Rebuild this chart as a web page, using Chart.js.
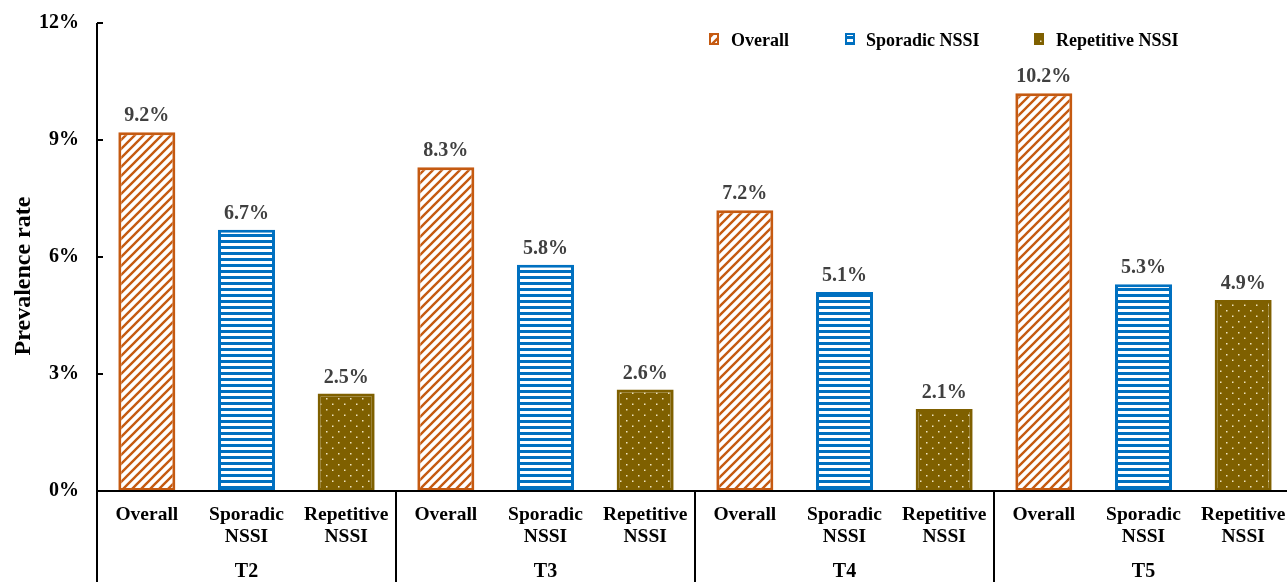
<!DOCTYPE html>
<html>
<head>
<meta charset="utf-8">
<script src="https://cdn.jsdelivr.net/npm/chart.js@4"></script>
<style>
html,body{margin:0;padding:0;background:#fff;overflow:hidden;}
#wrap{width:1287px;height:582px;position:relative;overflow:hidden;}
canvas{display:block;}
</style>
</head>
<body>
<div id="wrap"><canvas id="c" width="1293" height="582"></canvas></div>
<script>
const categories = [
  ["Overall"], ["Sporadic","NSSI"], ["Repetitive","NSSI"],
  ["Overall"], ["Sporadic","NSSI"], ["Repetitive","NSSI"],
  ["Overall"], ["Sporadic","NSSI"], ["Repetitive","NSSI"],
  ["Overall"], ["Sporadic","NSSI"], ["Repetitive","NSSI"]
];
const groups = ["T2","T3","T4","T5"];
const seriesNames = ["Overall","Sporadic NSSI","Repetitive NSSI"];
const overall    = [9.2, null, null, 8.3, null, null, 7.2, null, null, 10.2, null, null];
const sporadic   = [null, 6.7, null, null, 5.8, null, null, 5.1, null, null, 5.3, null];
const repetitive = [null, null, 2.5, null, null, 2.6, null, null, 2.1, null, null, 4.9];
const yTicks = [0, 3, 6, 9, 12];
const yTitle = "Prevalence rate";

const ORANGE = '#C55A11', BLUE = '#0070C0', BROWN = '#7F6000';
const FONT = '"Liberation Serif", "Times New Roman", serif';

function makePattern(kind) {
  const c = document.createElement('canvas');
  const ctx = c.getContext('2d');
  if (kind === 'diag') {
    c.width = 9; c.height = 9;
    ctx.fillStyle = '#fff'; ctx.fillRect(0,0,9,9);
    ctx.strokeStyle = ORANGE; ctx.lineWidth = 2.4;
    ctx.beginPath();
    ctx.moveTo(-2, 11); ctx.lineTo(11, -2);
    ctx.moveTo(-7, 7); ctx.lineTo(7, -7);
    ctx.moveTo(2, 16); ctx.lineTo(16, 2);
    ctx.stroke();
  } else if (kind === 'horiz') {
    c.width = 10; c.height = 6;
    ctx.fillStyle = '#fff'; ctx.fillRect(0,0,10,6);
    ctx.fillStyle = BLUE; ctx.fillRect(0, 0, 10, 3);
  } else {
    c.width = 12; c.height = 11;
    ctx.fillStyle = BROWN; ctx.fillRect(0,0,12,11);
    ctx.fillStyle = '#efe4c0';
    ctx.fillRect(2, 2, 1.5, 1.5);
    ctx.fillRect(8, 7.5, 1.5, 1.5);
  }
  return document.getElementById('c').getContext('2d').createPattern(c, 'repeat');
}
const fills = [makePattern('diag'), makePattern('horiz'), makePattern('dots')];
const borders = [ORANGE, BLUE, BROWN];

const customPlugin = {
  id: 'custom',
  afterDatasetsDraw(chart) {
    const ctx = chart.ctx;
    ctx.save();
    ctx.font = 'bold 20px ' + FONT;
    ctx.fillStyle = '#404040';
    ctx.textAlign = 'center';
    ctx.textBaseline = 'alphabetic';
    chart.data.datasets.forEach((ds, di) => {
      const meta = chart.getDatasetMeta(di);
      meta.data.forEach((bar, i) => {
        const v = ds.data[i];
        if (v === null || v === undefined) return;
        ctx.fillText(v.toFixed(1) + '%', bar.x, bar.y - 11);
      });
    });
    ctx.restore();
  },
  afterDraw(chart) {
    const ctx = chart.ctx;
    const x = chart.scales.x, y = chart.scales.y;
    const area = chart.chartArea;
    const H = chart.height;
    const half = (x.getPixelForValue(1) - x.getPixelForValue(0)) / 2;
    ctx.save();
    ctx.strokeStyle = '#000';
    ctx.lineWidth = 2;
    ctx.beginPath();
    ctx.moveTo(area.left, area.top);
    ctx.lineTo(area.left, H);
    ctx.stroke();
    ctx.beginPath();
    ctx.moveTo(area.left, area.bottom);
    ctx.lineTo(area.right, area.bottom);
    ctx.stroke();
    yTicks.forEach(t => {
      const py = y.getPixelForValue(t);
      ctx.beginPath();
      ctx.moveTo(area.left, py);
      ctx.lineTo(area.left + 6, py);
      ctx.stroke();
    });
    ctx.save();
    ctx.translate(24, 276);
    ctx.rotate(-Math.PI / 2);
    ctx.font = 'bold 24px ' + FONT;
    ctx.fillStyle = '#000';
    ctx.textAlign = 'center';
    ctx.textBaseline = 'middle';
    ctx.fillText(yTitle, 0, 0);
    ctx.restore();
    ctx.font = 'bold 20px ' + FONT;
    ctx.fillStyle = '#000';
    ctx.textAlign = 'center';
    ctx.textBaseline = 'middle';
    groups.forEach((g, gi) => {
      const start = x.getPixelForValue(gi * 3) - half;
      const end = x.getPixelForValue(gi * 3 + 2) + half;
      if (gi > 0) {
        ctx.beginPath();
        ctx.moveTo(start, area.bottom);
        ctx.lineTo(start, H);
        ctx.stroke();
      }
      ctx.fillText(g, (start + end) / 2, 572);
    });
    const legendPos = [[709, 731], [845, 866], [1034, 1056]];
    ctx.textAlign = 'left';
    ctx.font = 'bold 18px ' + FONT;
    seriesNames.forEach((n, i) => {
      const [bx, tx] = legendPos[i];
      ctx.fillStyle = fills[i];
      ctx.fillRect(bx, 33, 10, 12);
      ctx.strokeStyle = borders[i];
      ctx.lineWidth = 2;
      ctx.strokeRect(bx + 1, 34, 8, 10);
      ctx.fillStyle = '#000';
      ctx.fillText(n, tx, 41);
    });
    ctx.restore();
  }
};

const datasets = [overall, sporadic, repetitive].map((d, i) => ({
  label: seriesNames[i],
  data: d,
  backgroundColor: fills[i],
  borderColor: borders[i],
  borderWidth: 3,
  borderSkipped: false,
  categoryPercentage: 1,
  barPercentage: 0.572,
  grouped: false
}));

new Chart(document.getElementById('c'), {
  type: 'bar',
  data: { labels: categories, datasets },
  options: {
    responsive: false,
    animation: false,
    devicePixelRatio: 1,
    layout: { padding: { top: 23, right: 0, left: 0, bottom: 0 } },
    plugins: { legend: { display: false }, tooltip: { enabled: false } },
    scales: {
      x: {
        grid: { display: false, drawTicks: false },
        border: { display: false },
        ticks: {
          color: '#000',
          font: { family: FONT, size: 19.5, weight: 'bold', lineHeight: 1.12 },
          padding: 13,
          maxRotation: 0,
          autoSkip: false
        },
        afterFit(s) { s.height = 91; s.paddingLeft = 0; s.paddingRight = 0; }
      },
      y: {
        min: 0, max: 12,
        afterBuildTicks(s) { s.ticks = yTicks.map(v => ({ value: v })); },
        grid: { display: false, drawTicks: false },
        border: { display: false },
        ticks: {
          color: '#000',
          font: { family: FONT, size: 20, weight: 'bold' },
          padding: 18,
          callback: v => v + '%'
        },
        afterFit(s) { s.width = 97; s.paddingTop = 0; s.paddingBottom = 0; }
      }
    }
  },
  plugins: [customPlugin]
});
</script>
</body>
</html>
